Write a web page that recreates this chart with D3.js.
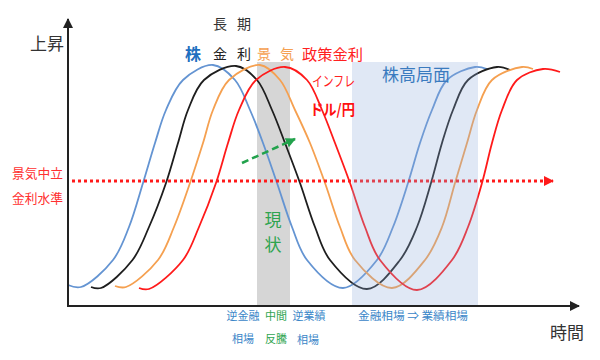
<!DOCTYPE html>
<html><head><meta charset="utf-8">
<script src="https://cdn.jsdelivr.net/npm/d3@7"></script>
<style>
html,body{margin:0;padding:0;background:#fff;}
svg{display:block;font-family:"Noto Sans CJK JP","Noto Sans",sans-serif;}
</style></head>
<body>
<svg id="chart" width="600" height="360"></svg>
<script>
// ---- data (time units 0..102, level units 0..100) ----
const seriesNames = ["株", "金利", "景気", "政策金利"];
const blueT   = [0, 2.6, 9.0, 12.2, 15.0, 17.4, 19.6, 23.0, 29.0, 33.4, 36.4, 39.0, 41.8, 44.8, 47.8, 55.0, 61.8, 65.0, 68.0, 70.4, 72.8, 75.8, 81.4, 83.8];
const blueL   = [8.4, 7.6, 18.4, 31.6, 49.2, 65.2, 78.4, 90.4, 96.4, 90.4, 78.4, 65.2, 49.2, 31.6, 18.4, 7.2, 18.4, 31.6, 49.2, 65.2, 78.4, 90.4, 95.6, 94.8];
const blackT  = [4.6, 6.6, 12.9, 16.2, 19.6, 22.0, 24.0, 27.2, 33.6, 37.8, 40.8, 43.4, 46.4, 49.4, 52.4, 59.8, 66.4, 69.8, 72.6, 74.8, 77.0, 80.0, 85.8, 88.4];
const blackL  = [7.6, 7.2, 18.4, 31.6, 49.2, 65.2, 78.4, 90.4, 96.0, 90.4, 78.4, 65.2, 49.2, 31.6, 18.4, 6.8, 18.4, 31.6, 49.2, 65.2, 78.4, 90.4, 95.6, 94.4];
const orangeT = [9.4, 11.6, 18.0, 21.2, 24.4, 27.0, 29.0, 32.2, 38.4, 42.4, 45.4, 48.4, 51.4, 54.4, 57.4, 64.8, 71.4, 74.8, 77.4, 79.8, 81.8, 84.8, 90.8, 93.0];
const orangeL = [8.0, 7.6, 18.4, 31.6, 49.2, 65.2, 78.4, 90.4, 96.4, 90.4, 78.4, 65.2, 49.2, 31.6, 18.4, 7.2, 18.4, 31.6, 49.2, 65.2, 78.4, 90.4, 95.6, 94.8];
const redT    = [14.2, 16.2, 23.0, 26.2, 29.6, 32.0, 34.2, 37.6, 43.4, 47.8, 50.8, 53.4, 56.4, 59.4, 62.4, 69.8, 76.8, 80.0, 82.8, 84.8, 86.8, 89.8, 95.0, 98.4];
const redL    = [7.2, 6.8, 18.4, 31.6, 49.2, 65.2, 78.4, 90.4, 95.6, 90.4, 78.4, 65.2, 49.2, 31.6, 18.4, 6.4, 18.4, 31.6, 49.2, 65.2, 78.4, 90.4, 94.8, 93.6];
const neutralLevel = 50;
const neutralRange = [0.8, 97.0];
const currentBand = [37.8, 44.4];
const bullBand = [56.8, 82.0];
const bandTop = 97.6;
const trendArrowT = [34.8, 45.4];
const trendArrowL = [57.2, 66.8];

// ---- scales ----
const x = d3.scaleLinear().domain([0, 102]).range([68, 578]);
const y = d3.scaleLinear().domain([0, 100]).range([306, 56]);
const svg = d3.select("#chart");

const defs = svg.append("defs");
function marker(id, color, w, h) {
  defs.append("marker").attr("id", id).attr("viewBox", "0 0 10 10")
    .attr("refX", 9).attr("refY", 5).attr("markerWidth", w).attr("markerHeight", h)
    .attr("markerUnits", "userSpaceOnUse").attr("orient", "auto")
    .append("path").attr("d", "M0,0L10,5L0,10Z").attr("fill", color);
}
marker("axArrow", "#222", 11, 10);
marker("redArrow", "#ff1a1a", 10, 10);
marker("greenArrow", "#22a24c", 10, 10);

// gray band (behind curves)
svg.append("rect").attr("x", x(currentBand[0])).attr("y", y(bandTop))
  .attr("width", x(currentBand[1]) - x(currentBand[0]))
  .attr("height", y(0) - y(bandTop)).attr("fill", "#d6d6d6");

// curves
const line = d3.line().x(d => x(d[0])).y(d => y(d[1])).curve(d3.curveCatmullRom.alpha(0.5));
const series = [
  {t: blueT, l: blueL, c: "#6494d2"},
  {t: blackT, l: blackL, c: "#1e1e1e"},
  {t: orangeT, l: orangeL, c: "#f5a050"},
  {t: redT, l: redL, c: "#ff1a1a"}
];
series.forEach(s => {
  svg.append("path").attr("d", line(d3.zip(s.t, s.l)))
    .attr("fill", "none").attr("stroke", s.c).attr("stroke-width", 1.8);
});

// neutral dotted line
svg.append("line").attr("x1", x(neutralRange[0])).attr("x2", x(neutralRange[1]))
  .attr("y1", y(neutralLevel)).attr("y2", y(neutralLevel))
  .attr("stroke", "#ff1a1a").attr("stroke-width", 3)
  .attr("stroke-dasharray", "3,3").attr("marker-end", "url(#redArrow)");

// blue band (over curves)
svg.append("rect").attr("x", x(bullBand[0])).attr("y", y(bandTop))
  .attr("width", x(bullBand[1]) - x(bullBand[0]))
  .attr("height", y(0) - y(bandTop)).attr("fill", "#91abda").attr("fill-opacity", 0.28);

// green dashed arrow
svg.append("line").attr("x1", x(trendArrowT[0])).attr("y1", y(trendArrowL[0]))
  .attr("x2", x(trendArrowT[1])).attr("y2", y(trendArrowL[1]))
  .attr("stroke", "#22a24c").attr("stroke-width", 2.5)
  .attr("stroke-dasharray", "7,4").attr("marker-end", "url(#greenArrow)");

// axes
svg.append("line").attr("x1", x(0)).attr("y1", y(0)).attr("x2", x(0)).attr("y2", 19)
  .attr("stroke", "#222").attr("stroke-width", 2).attr("marker-end", "url(#axArrow)");
svg.append("line").attr("x1", x(0) - 1).attr("y1", y(0)).attr("x2", 579).attr("y2", y(0))
  .attr("stroke", "#222").attr("stroke-width", 2).attr("marker-end", "url(#axArrow)");

// texts
function txt(s, px, py, size, color, opts = {}) {
  const t = svg.append("text").attr("x", px).attr("y", py).text(s)
    .attr("font-size", size).attr("fill", color)
    .attr("dominant-baseline", "central")
    .attr("text-anchor", opts.anchor || "start");
  if (opts.bold) t.attr("font-weight", "bold");
  if (opts.len) t.attr("textLength", opts.len).attr("lengthAdjust", "spacingAndGlyphs");
  return t;
}
txt("上昇", 30, 42, 17, "#333");
txt("時間", 550, 331, 17, "#333");
txt("長", 213, 23, 14, "#333");
txt("期", 237, 23, 14, "#333");
txt(seriesNames[0], 185, 53, 16, "#1f6fc0", {bold: true});
txt("金", 213, 53, 14, "#222");
txt("利", 237, 53, 14, "#222");
txt("景", 257, 53, 14, "#f5a050");
txt("気", 280, 53, 14, "#f5a050");
txt(seriesNames[3], 302, 53, 15, "#ff2020", {len: 61});
txt("インフレ", 312, 80, 14, "#ff2020", {len: 43});
txt("ドル/円", 310, 108, 15, "#ff1010", {bold: true, len: 45});
txt("株高局面", 382, 73, 17, "#3a7bbf", {len: 68});
txt("景気中立", 12, 172, 13, "#ff3030", {len: 51});
txt("金利水準", 12, 197, 13, "#ff3030", {len: 51});
txt("現", 273, 218, 17, "#2ea44f", {anchor: "middle"});
txt("状", 273, 243, 17, "#2ea44f", {anchor: "middle"});
txt("逆金融", 243, 315, 11, "#3a86c8", {anchor: "middle"});
txt("相場", 243, 338, 11, "#3a86c8", {anchor: "middle"});
txt("中間", 276, 315, 11, "#2ea44f", {anchor: "middle"});
txt("反騰", 276, 338, 11, "#2ea44f", {anchor: "middle"});
txt("逆業績", 309, 315, 11, "#3a86c8", {anchor: "middle"});
txt("相場", 308, 339, 11, "#3a86c8", {anchor: "middle"});
txt("金融相場 ⇒ 業績相場", 413, 315, 11, "#3a86c8", {anchor: "middle", len: 110});
</script>
</body></html>
